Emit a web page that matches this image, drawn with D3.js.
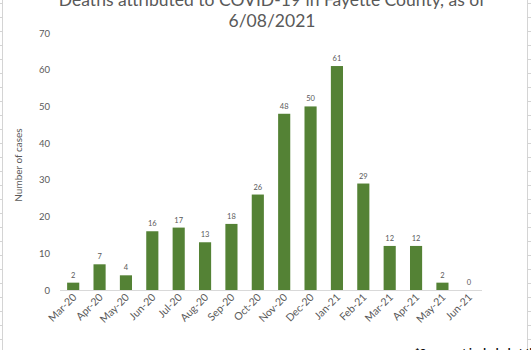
<!DOCTYPE html>
<html>
<head>
<meta charset="utf-8">
<script src="https://cdn.jsdelivr.net/npm/d3@7"></script>
<style>
  html, body { margin: 0; padding: 0; background: #fff; overflow: hidden; }
  svg { display: block; }
  text { font-family: Lato, "Open Sans", sans-serif; }
</style>
</head>
<body>
<svg id="chart" width="531" height="350"></svg>
<script>
// Monthly COVID-19 deaths, Fayette County
const months = ["Mar-20","Apr-20","May-20","Jun-20","Jul-20","Aug-20","Sep-20","Oct-20",
                "Nov-20","Dec-20","Jan-21","Feb-21","Mar-21","Apr-21","May-21","Jun-21"];
const deaths = [2, 7, 4, 16, 17, 13, 18, 26, 48, 50, 61, 29, 12, 12, 2, 0];
const yTicks = [0, 10, 20, 30, 40, 50, 60, 70];
const titleLines = ["Deaths attributed to COVID-19 in Fayette County, as of", "6/08/2021"];

const svg = d3.select("#chart");
const W = 531, H = 350;
const textGray = "#595959";

// Sheet cell borders peeking in at the edges
const edge = svg.append("g").attr("stroke", "#d4d4d4").attr("stroke-width", 1);
edge.append("line").attr("x1", 2.5).attr("x2", 2.5).attr("y1", 0).attr("y2", H);
edge.append("line").attr("x1", 527.5).attr("x2", 527.5).attr("y1", 0).attr("y2", H);
for (let y = 3.5; y < H; y += 14) {
  edge.append("line").attr("x1", 0).attr("x2", 2.5).attr("y1", y).attr("y2", y);
  edge.append("line").attr("x1", 527.5).attr("x2", W).attr("y1", y).attr("y2", y);
}

const plot = { left: 60, right: 482, top: 33, bottom: 290 };

const x = d3.scaleBand().domain(months).range([plot.left, plot.right]).paddingInner(0.54).paddingOuter(0.27);
const y = d3.scaleLinear().domain([0, 70]).range([plot.bottom, plot.top]);

// Title
svg.append("g").selectAll("text").data(titleLines).join("text")
  .attr("x", 272).attr("y", (d, i) => 6 + i * 21)
  .attr("text-anchor", "middle").attr("fill", textGray)
  .attr("font-size", 17.5).text(d => d);

// Y axis labels (no axis line)
const yAxis = d3.axisLeft(y).tickValues(yTicks).tickSize(0).tickPadding(0);
const gy = svg.append("g").attr("transform", `translate(${plot.left - 10},0)`).call(yAxis);
gy.select(".domain").remove();
gy.selectAll("text").attr("fill", textGray).attr("font-size", 9.5).attr("font-family", "Lato, sans-serif");

// Y axis title
svg.append("text")
  .attr("transform", `translate(22,165) rotate(-90)`)
  .attr("text-anchor", "middle").attr("fill", textGray).attr("font-size", 10)
  .text("Number of cases");

// Bars
svg.append("g").selectAll("rect").data(months).join("rect")
  .attr("x", d => x(d)).attr("width", x.bandwidth())
  .attr("y", (d, i) => y(deaths[i]))
  .attr("height", (d, i) => y(0) - y(deaths[i]))
  .attr("fill", "#548235");

// Data labels
svg.append("g").selectAll("text").data(months).join("text")
  .attr("x", d => x(d) + x.bandwidth() / 2)
  .attr("y", (d, i) => y(deaths[i]) - 5)
  .attr("text-anchor", "middle").attr("fill", textGray).attr("font-size", 7.5)
  .text((d, i) => deaths[i]);

// X axis
const xAxis = d3.axisBottom(x).tickSize(0).tickPadding(0);
const gx = svg.append("g").attr("transform", `translate(0,${plot.bottom})`).call(xAxis);
gx.select(".domain").attr("stroke", "#d9d9d9").attr("d", `M${plot.left},0.5H${plot.right}`);
gx.selectAll("text")
  .attr("fill", textGray).attr("font-size", 10.5).attr("font-family", "Lato, sans-serif")
  .attr("text-anchor", "end").attr("dy", 0)
  .attr("transform", "translate(4,8) rotate(-45)");

// Footnote, partly cut off by the frame
svg.append("text").attr("x", 415).attr("y", 357)
  .attr("fill", "#000").attr("font-size", 11).attr("font-weight", "bold")
  .text("*Some not included at this time");
</script>
</body>
</html>
